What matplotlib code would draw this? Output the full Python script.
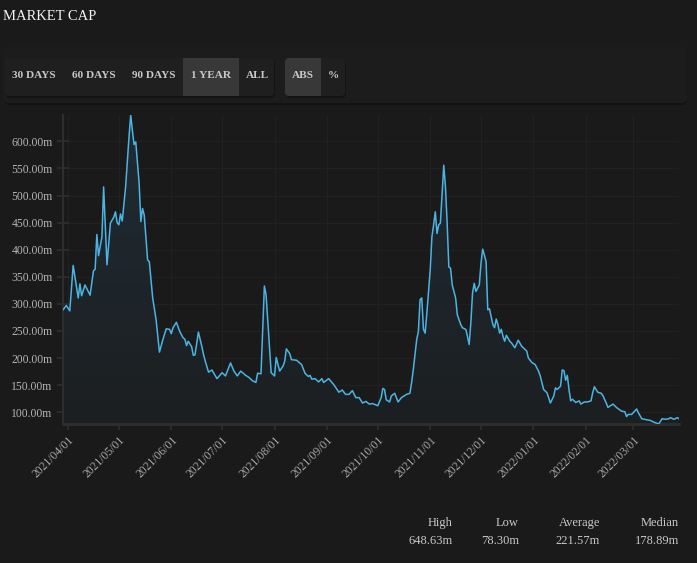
import numpy as np
import pandas as pd
import matplotlib
matplotlib.use("Agg")
import matplotlib.pyplot as plt
import matplotlib.dates as mdates
from matplotlib.patches import FancyBboxPatch, Rectangle
from matplotlib.colors import LinearSegmentedColormap

# ---------------- data ----------------
# days since 2021-04-01 and market cap in millions
days = [-3, -1, 1, 3, 6, 7, 8, 10, 13, 15, 16, 17, 18, 20, 21, 23, 25, 27, 28, 29,
        30, 31, 32, 34, 36, 37, 38, 39, 40, 42, 43, 44, 45, 47, 48, 50, 52, 54, 56, 58,
        60, 61, 62, 64, 66, 68, 69, 70, 71, 73, 74, 75, 77, 79, 80, 81, 83, 85, 88, 91,
        93, 96, 98, 100, 102, 105, 107, 109, 111, 112, 114, 115, 116, 117, 119, 120, 122, 123, 125, 127,
        128, 129, 131, 132, 135, 138, 140, 142, 143, 144, 146, 148, 150, 151, 154, 157, 160, 162, 164, 166,
        168, 170, 172, 174, 176, 178, 180, 183, 185, 186, 187, 188, 190, 191, 193, 195, 197, 200, 202, 203,
        204, 206, 207, 208, 209, 210, 211, 212, 214, 215, 216, 217, 218, 219, 220, 221, 222, 223, 224, 225,
        226, 227, 229, 230, 232, 233, 235, 236, 237, 238, 239, 240, 241, 243, 244, 245, 246, 247, 248, 249,
        251, 252, 253, 254, 255, 256, 257, 258, 259, 261, 262, 264, 266, 268, 271, 272, 274, 276, 278, 279,
        281, 283, 285, 287, 288, 289, 291, 292, 293, 294, 295, 296, 297, 298, 300, 302, 303, 305, 307, 309,
        310, 311, 313, 315, 316, 318, 319, 322, 324, 327, 329, 330, 331, 333, 336, 337, 339, 342, 344, 346,
        349, 351, 353, 355, 356, 358, 360, 361]
values = [289, 297, 287, 371, 311, 337, 315, 335, 316, 361, 364, 428, 389, 424, 516, 372, 449, 460, 470, 450,
          446, 466, 453, 516, 608, 648.63, 620, 594, 599, 522, 452, 476, 464, 381, 378, 311, 271, 211, 234, 254,
          253, 245, 256, 266, 249, 237, 235, 223, 231, 221, 205, 206, 248, 222, 207, 195, 174, 178, 162, 173,
          167, 191, 176, 167, 176, 168, 164, 158, 155, 172, 171, 253, 333, 317, 222, 173, 167, 201, 176, 185,
          194, 217, 208, 197, 196, 188, 172, 166, 168, 161, 162, 156, 162, 155, 162, 151, 137, 141, 133, 133,
          140, 127, 127, 117, 120, 115, 116, 112, 127, 144, 142, 123, 119, 130, 135, 119, 127, 133, 135, 155,
          179, 234, 249, 308, 311, 253, 246, 283, 363, 424, 446, 470, 430, 446, 449, 504, 556, 516, 449, 368,
          366, 335, 311, 280, 262, 256, 253, 240, 225, 265, 320, 338, 323, 335, 375, 401, 390, 378, 289, 291,
          262, 256, 272, 262, 246, 253, 240, 231, 242, 231, 228, 219, 233, 222, 213, 200, 192, 188, 176, 167,
          142, 136, 117, 130, 145, 142, 148, 178, 177, 159, 168, 142, 121, 124, 118, 121, 115, 119, 119, 121,
          136, 147, 137, 135, 131, 117, 109, 115, 109, 102, 101, 92, 96, 96, 106, 99, 88, 86, 85, 82,
          78.3, 88, 87, 88, 90, 87, 90, 88]

y_ticks = [100, 150, 200, 250, 300, 350, 400, 450, 500, 550, 600]
x_tick_dates = ["2021-04-01", "2021-05-01", "2021-06-01", "2021-07-01", "2021-08-01", "2021-09-01",
                "2021-10-01", "2021-11-01", "2021-12-01", "2022-01-01", "2022-02-01", "2022-03-01"]
range_buttons = ["30 DAYS", "60 DAYS", "90 DAYS", "1 YEAR", "ALL"]
mode_buttons = ["ABS", "%"]
stat_labels = ["High", "Low", "Average", "Median"]
stat_values = ["648.63m", "78.30m", "221.57m", "178.89m"]

# ---------------- styling ----------------
BG = "#1a1a1a"
LINE = "#4cb4e2"
TXT = "#c8c8c8"
SERIF = ["Liberation Serif", "DejaVu Serif"]

W, H = 697, 563
fig = plt.figure(figsize=(W / 100, H / 100), dpi=100, facecolor=BG)

# overlay in pixel coordinates for page decorations
ov = fig.add_axes([0, 0, 1, 1], zorder=-1)
ov.set_xlim(0, W)
ov.set_ylim(H, 0)
ov.axis("off")
ov.set_facecolor(BG)

ov.text(3, 17, "MARKET CAP", color="#f2f2f2", fontsize=10.5, family=SERIF, va="center", ha="left")

# header panel
ov.add_patch(FancyBboxPatch((4, 50), 683, 55, boxstyle="round,pad=0,rounding_size=5",
                            fc="#131313", ec="none"))
ov.add_patch(FancyBboxPatch((3, 47), 684, 56, boxstyle="round,pad=0,rounding_size=5",
                            fc="#1c1c1c", ec="none"))

# button groups
def group(x0, x1, y0=58, y1=96):
    ov.add_patch(FancyBboxPatch((x0 + 1, y0 + 2), x1 - x0, y1 - y0, boxstyle="round,pad=0,rounding_size=4",
                                fc="#141414", ec="none"))
    ov.add_patch(FancyBboxPatch((x0, y0), x1 - x0, y1 - y0, boxstyle="round,pad=0,rounding_size=4",
                                fc="#1f1f1f", ec="none"))

group(5, 274)
group(285, 345)
range_centers = [34, 94, 154, 211, 257]
range_edges = [(5, 64), (64, 124), (124, 183), (183, 239), (239, 274)]
for i, (lab, cx) in enumerate(zip(range_buttons, range_centers)):
    x0, x1 = range_edges[i]
    if lab == "1 YEAR":
        ov.add_patch(Rectangle((x0, 58), x1 - x0, 38, fc="#383838", ec="none"))
    ov.text(cx, 76, lab, color=TXT, fontsize=8.1, fontweight="bold", family=SERIF,
            ha="center", va="center")
mode_centers = [303, 333]
ov.add_patch(FancyBboxPatch((285, 58), 36, 38, boxstyle="round,pad=0,rounding_size=4",
                            fc="#383838", ec="none"))
ov.add_patch(Rectangle((300, 58), 21, 38, fc="#383838", ec="none"))
for lab, cx in zip(mode_buttons, mode_centers):
    ov.text(cx, 76, lab, color=TXT, fontsize=8.1, fontweight="bold", family=SERIF,
            ha="center", va="center")

# stats
stat_right = [453, 519, 600, 679]
for lab, val, xr in zip(stat_labels, stat_values, stat_right):
    ov.text(xr, 523, lab, color=TXT, fontsize=9, family=SERIF, ha="right", va="center")
    ov.text(xr, 541, val, color=TXT, fontsize=9, family=SERIF, ha="right", va="center")

# ---------------- main chart ----------------
ax = fig.add_axes([63 / W, 1 - 424 / H, 616 / W, 309 / H])
ax.set_facecolor(BG)
ax.patch.set_alpha(0)

dates = pd.Timestamp("2021-04-01") + pd.to_timedelta(days, unit="D")
x = mdates.date2num(dates.to_pydatetime())
v = np.array(values, dtype=float)

y0, y1 = 78.3, 648.63
ax.set_xlim(x[0], x[-1])
ax.set_ylim(y0, y1)

# gradient fill under curve
poly = ax.fill_between(x, v, y0, color="none", lw=0)
grad = np.linspace(0.0, 1.0, 256).reshape(-1, 1)
cmap = LinearSegmentedColormap.from_list("g", ["#1c1f21", "#202c35"])
im = ax.imshow(grad, extent=[x[0], x[-1], y0, y1], origin="lower", aspect="auto",
               cmap=cmap, zorder=1)
im.set_clip_path(poly.get_paths()[0], transform=ax.transData)

ax.plot(x, v, color=LINE, lw=1.1, zorder=3, solid_joinstyle="round")

# ticks & grid
xt = mdates.date2num(pd.to_datetime(x_tick_dates).to_pydatetime())
ax.set_xticks(xt)
ax.set_xticklabels([d.replace("-", "/") for d in x_tick_dates], rotation=45, ha="right",
                   rotation_mode="anchor", family=SERIF, fontsize=8.4, color="#a8a8a8")
ax.set_yticks(y_ticks)
ax.set_yticklabels([f"{t:.2f}m" for t in y_ticks], family=SERIF, fontsize=8.4, color="#b4b4b4")
ax.tick_params(axis="both", direction="inout", length=9, width=1.2, color="#2e2e2e")
ax.tick_params(axis="y", pad=3)
ax.tick_params(axis="x", pad=3)
ax.grid(True, color="#212121", lw=0.8, zorder=0)
ax.set_axisbelow(True)

for s in ["top", "right"]:
    ax.spines[s].set_visible(False)
ax.spines["left"].set_color("#2e2e2e")
ax.spines["left"].set_linewidth(1.5)
ax.spines["bottom"].set_color("#2e2e2e")
ax.spines["bottom"].set_linewidth(2)

fig.savefig("out.png", dpi=100, facecolor=BG)
